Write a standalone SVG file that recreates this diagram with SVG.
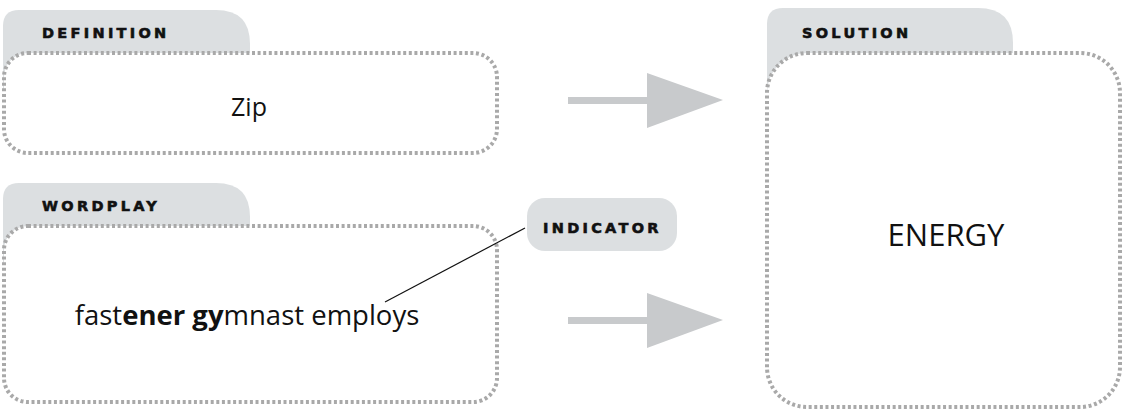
<svg xmlns="http://www.w3.org/2000/svg" width="1124" height="411" viewBox="0 0 1124 411">
<style>
.tab{fill:#dcdfe1}
.box{fill:#fff;stroke:#a9a9a9;stroke-width:4;stroke-dasharray:3 2.6}
.lbl{font-family:"DejaVu Sans",sans-serif;font-weight:bold;font-size:14.5px;letter-spacing:3.3px;fill:#111;stroke:#111;stroke-width:0.6}
.txt{font-family:"Open Sans",Lato,sans-serif;fill:#111;text-anchor:middle}
.arr{fill:#c8cacc}
</style>
<rect width="1124" height="411" fill="#fff"/>
<g id="definition">
<path class="tab" d="M3,90 V26 Q3,10 19,10 H216 Q250,10 250,44 V90 Z"/>
<rect class="box" x="4" y="53" width="493" height="100" rx="24"/>
<text class="lbl" x="42" y="38">DEFINITION</text>
<text class="txt" x="249" y="116" font-size="25">Zip</text>
</g>
<g id="wordplay">
<path class="tab" d="M3,265 V199 Q3,183 19,183 H216 Q250,183 250,217 V265 Z"/>
<rect class="box" x="4" y="226" width="493" height="176" rx="24"/>
<text class="lbl" x="42" y="211">WORDPLAY</text>
<text class="txt" x="247" y="325" font-size="27.5">fast<tspan font-weight="bold">ener gy</tspan>mnast employs</text>
</g>
<g id="indicator">
<rect class="tab" x="527" y="198" width="150" height="53" rx="18"/>
<text class="lbl" x="543" y="233">INDICATOR</text>
</g>
<g id="solution">
<path class="tab" d="M767,120 V24 Q767,8 783,8 H978 Q1013,8 1013,43 V120 Z"/>
<rect class="box" x="767" y="53" width="353" height="354" rx="40"/>
<text class="lbl" x="802" y="38">SOLUTION</text>
<text class="txt" x="946" y="246" font-size="31">ENERGY</text>
</g>
<g id="connectors">
<line x1="525" y1="228" x2="385" y2="302" stroke="#111" stroke-width="1.2"/>
<rect class="arr" x="568" y="97" width="82" height="7"/>
<polygon class="arr" points="647,73 723,100 647,128"/>
<rect class="arr" x="568" y="317" width="82" height="7"/>
<polygon class="arr" points="647,293 723,320 647,348"/>
</g>
</svg>
